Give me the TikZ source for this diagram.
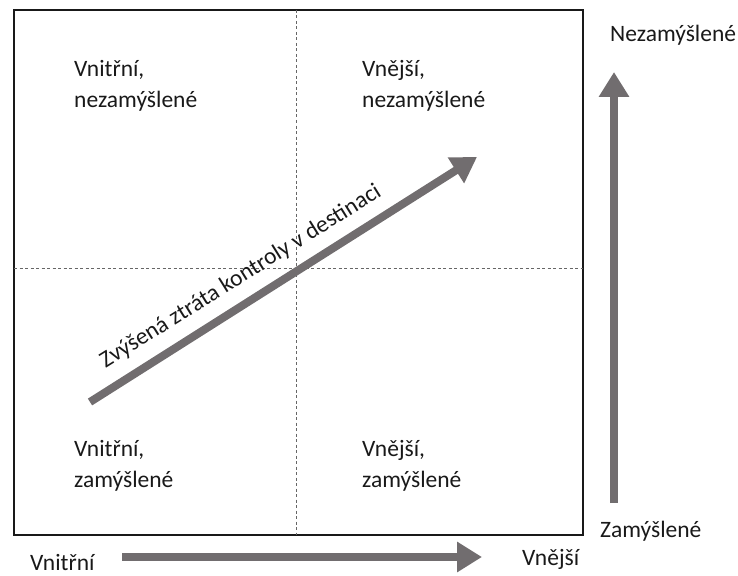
\documentclass[tikz,border=0pt]{standalone}
\usepackage{fontspec}
\setmainfont{Carlito}
\usetikzlibrary{arrows.meta}
\definecolor{arrowgray}{RGB}{113,109,111}
\definecolor{textdark}{RGB}{25,25,25}
\tikzset{
  bigarrow/.style={arrowgray, line width=8pt, -{Triangle[length=25pt,width=29pt]}},
  quadline/.style={black!60, line width=0.8pt, dash pattern=on 3pt off 2.5pt},
  lbl/.style={textdark, inner sep=0pt, font=\fontsize{23.5}{31}\selectfont},
  quad/.style={lbl, align=left, anchor=base west},
}
\begin{document}
\begin{tikzpicture}[x=1pt,y=-1pt]
  \useasboundingbox (0,0) rectangle (738,575);
  % ramec a kvadranty
  \draw[textdark, line width=1.4pt] (14,10) rectangle (583,535);
  \draw[quadline] (296,10) -- (296,535);
  \draw[quadline] (14,268) -- (583,268);
  \node[quad] (vni-nez) at (74,108) {Vnitřní,\\nezamýšlené};
  \node[quad] (vne-nez) at (362,108) {Vnější,\\nezamýšlené};
  \node[quad] (vni-zam) at (74,487) {Vnitřní,\\zamýšlené};
  \node[quad] (vne-zam) at (362,487) {Vnější,\\zamýšlené};
  % osy
  \node[lbl, anchor=base west] (osa-vni) at (30,570) {Vnitřní};
  \node[lbl, anchor=base west] (osa-vne) at (522,565) {Vnější};
  \node[lbl, anchor=base west] (osa-zam) at (600,537) {Zamýšlené};
  \node[lbl, anchor=base west] (osa-nez) at (610,42) {Nezamýšlené};
  \coordinate (h0) at (122,557);
  \coordinate (h1) at (482,557);
  \coordinate (v0) at (614,503);
  \coordinate (v1) at (614,72);
  \draw[bigarrow] (h0) -- (h1);
  \draw[bigarrow] (v0) -- (v1);
  % diagonala
  \coordinate (d0) at (90,402);
  \coordinate (d1) at (477,157);
  \draw[bigarrow] (d0) -- (d1);
  \node[lbl, rotate=32, anchor=base] (ztrata) at (244,282) {Zvýšená ztráta kontroly v destinaci};
\end{tikzpicture}
\end{document}
